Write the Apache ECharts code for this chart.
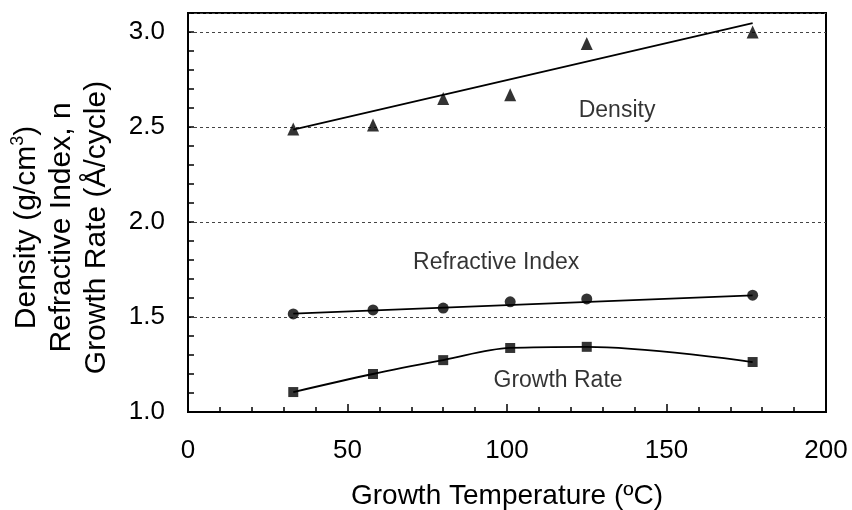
<!DOCTYPE html>
<html>
<head>
<meta charset="utf-8">
<script src="https://cdn.jsdelivr.net/npm/echarts@6/dist/echarts.min.js"></script>
<style>html,body{margin:0;padding:0;background:#fff}#c{width:852px;height:510px}</style>
</head>
<body>
<div id="c"></div>
<script>
const temperature = [33, 58, 80, 101, 125, 177];
const density = [2.49, 2.51, 2.65, 2.67, 2.94, 3.00];
const refractiveIndex = [1.516, 1.537, 1.547, 1.58, 1.595, 1.615];
const growthRate = [1.105, 1.20, 1.273, 1.337, 1.343, 1.263];
const densityFit = [[33, 2.486], [177, 3.047]];
const refractiveFit = [[33, 1.518], [177, 1.614]];
const seriesLabels = [
  [134.5, 2.584, 'Density'],
  [96.6, 1.784, 'Refractive Index'],
  [116, 1.163, 'Growth Rate']
];
const xTickLabels = ['0', '50', '100', '150', '200'];
const yTickLabels = ['1.0', '1.5', '2.0', '2.5', '3.0'];

const FONT = "'Liberation Sans', Arial, Helvetica, sans-serif";
const zip = (xs, ys) => xs.map((x, i) => [x, ys[i]]);

const chart = echarts.init(document.getElementById('c'), null, {renderer: 'canvas'});
chart.setOption({
  animation: false,
  backgroundColor: '#fff',
  grid: {left: 188, right: 26, top: 13, bottom: 98, outerBoundsMode: 'none', containLabel: false,
    show: true, borderColor: '#000', borderWidth: 2, backgroundColor: 'transparent'},
  xAxis: {
    type: 'value', min: 0, max: 200, interval: 50,
    name: 'Growth Temperature (ºC)', nameLocation: 'middle', nameGap: 70,
    nameTextStyle: {fontFamily: FONT, fontSize: 28, color: '#000'},
    axisLine: {show: true, onZero: false, lineStyle: {color: '#000', width: 2}},
    axisTick: {show: true, inside: true, length: 8, lineStyle: {color: '#000', width: 1.5}},
    minorTick: {show: true, splitNumber: 5, length: 5, lineStyle: {color: '#000', width: 1.5}},
    axisLabel: {margin: 26, fontFamily: FONT, fontSize: 26, color: '#000',
      formatter: v => { const s = String(v); return xTickLabels.indexOf(s) >= 0 ? s : ''; }},
    splitLine: {show: false}
  },
  yAxis: {
    type: 'value', min: 1.0, max: 3.1, interval: 0.5,
    name: '{a|Density (g/cm}{sup|3}{a|)}\n{a|Refractive Index, n}\n{a|Growth Rate (Å/cycle)}',
    nameLocation: 'middle', nameRotate: 90, nameGap: 74,
    nameTextStyle: {
      fontFamily: FONT, fontSize: 30, color: '#000', lineHeight: 35, padding: [0, 30, 0, 0],
      rich: {
        a: {fontFamily: FONT, fontSize: 30, color: '#000', lineHeight: 35},
        sup: {fontFamily: FONT, fontSize: 18, color: '#000', lineHeight: 35, verticalAlign: 'top', padding: [0, 0, 14, 0]}
      }
    },
    axisLine: {show: true, onZero: false, lineStyle: {color: '#000', width: 2}},
    axisTick: {show: true, inside: true, length: 6, lineStyle: {color: '#000', width: 1.5}},
    minorTick: {show: true, splitNumber: 5, length: 6, lineStyle: {color: '#000', width: 1.5}},
    axisLabel: {margin: 23, fontFamily: FONT, fontSize: 26, color: '#000', showMaxLabel: false,
      formatter: v => { const s = v.toFixed(1); return yTickLabels.indexOf(s) >= 0 ? s : ''; }},
    splitLine: {show: true, lineStyle: {color: '#444', width: 1, type: [3, 3]}}
  },
  series: [
    {type: 'line', data: densityFit, showSymbol: false, symbol: 'none', lineStyle: {color: '#000', width: 1.8}, z: 3},
    {type: 'line', data: refractiveFit, showSymbol: false, symbol: 'none', lineStyle: {color: '#000', width: 1.8}, z: 3},
    {type: 'line', data: zip(temperature, growthRate), smooth: 0.35, symbol: 'none', lineStyle: {color: '#000', width: 1.8}, z: 3},
    {type: 'scatter', data: zip(temperature, density), symbol: 'triangle', symbolSize: [12, 13], itemStyle: {color: '#000'}, z: 4},
    {type: 'scatter', data: zip(temperature, refractiveIndex), symbol: 'circle', symbolSize: 11, itemStyle: {color: '#000'}, z: 4},
    {type: 'scatter', data: zip(temperature, growthRate), symbol: 'rect', symbolSize: 10, itemStyle: {color: '#000'}, z: 4},
    {type: 'scatter', data: seriesLabels, symbolSize: 0, silent: true,
      label: {show: true, position: 'inside', formatter: p => p.data[2], fontFamily: FONT, fontSize: 23, color: '#000', textBorderWidth: 0}, z: 5}
  ]
});
</script>
</body>
</html>
